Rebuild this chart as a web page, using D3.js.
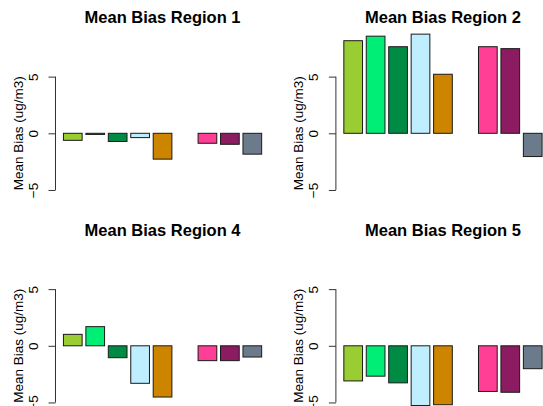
<!DOCTYPE html>
<html>
<head>
<meta charset="utf-8">
<script src="https://cdn.jsdelivr.net/npm/d3@7/dist/d3.min.js"></script>
<style>
  html, body { margin: 0; padding: 0; background: #fff; }
  svg { display: block; font-family: "Liberation Sans", Arial, sans-serif; }
</style>
</head>
<body>
<div id="chart"></div>
<script>
// one slot per model, slot 6 is left empty in the original plot
const slotColors = ['#9ACD32', '#00EE76', '#008B45', '#BFEFFF', '#CD8500', null, '#FF3E96', '#8B1C62', '#6C7B8B'];

const titles = ['Mean Bias Region 1', 'Mean Bias Region 2', 'Mean Bias Region 4', 'Mean Bias Region 5'];

const region1 = [-0.62, -0.1, -0.72, -0.38, -2.28, null, -0.88, -0.97, -1.84];
const region2 = [8.17, 8.57, 7.64, 8.75, 5.21, null, 7.64, 7.47, -2.05];
const region4 = [1.01, 1.69, -1.05, -3.31, -4.52, null, -1.31, -1.31, -0.99];
const region5 = [-3.1, -2.68, -3.27, -5.27, -5.2, null, -4.03, -4.1, -2.02];

const yTicks = [-5, 0, 5];
const yLabel = 'Mean Bias (ug/m3)';

const W = 543, H = 406;
const panels = [
    {title: titles[0], values: region1, dx: 0, dy: 0},
    {title: titles[1], values: region2, dx: 280.4, dy: 0},
    {title: titles[2], values: region4, dx: 0, dy: 212.5},
    {title: titles[3], values: region5, dx: 280.4, dy: 212.5}
];

const svg = d3.select('#chart').append('svg')
.attr('width', W)
.attr('height', H);

// R barplot geometry: width 1, space 0.2, ylim c(-5, 5) with 4% padding
const barWidth = 1;
const space = 0.2;
const nSlots = slotColors.length;
const xMin = space;
const xMax = nSlots * (barWidth + space);
const xPad = (xMax - xMin) * 0.04;

const plot = {left: 55.5, width: 214.1, top: 72.1, height: 122.4};

const x = d3.scaleLinear()
.domain([xMin - xPad, xMax + xPad])
.range([plot.left, plot.left + plot.width]);

const y = d3.scaleLinear()
.domain([-5.4, 5.4])
.range([plot.top + plot.height, plot.top]);

panels.forEach((p) => {
    const g = svg.append('g').attr('transform', `translate(${p.dx},${p.dy})`);

    const bars = p.values
    .map((v, i) => ({v, i, color: slotColors[i]}))
    .filter((d) => d.v !== null);

    g.selectAll('rect')
    .data(bars)
    .enter()
    .append('rect')
    .attr('x', (d) => x(space + d.i * (barWidth + space)))
    .attr('width', (d) => x(barWidth) - x(0))
    .attr('y', (d) => y(Math.max(0, d.v)))
    .attr('height', (d) => Math.abs(y(d.v) - y(0)))
    .attr('fill', (d) => d.color)
    .attr('stroke', '#1a1a1a')
    .attr('stroke-width', 1);

    const axis = g.append('g')
    .attr('transform', `translate(${plot.left},0)`)
    .call(d3.axisLeft(y).tickValues(yTicks).tickSize(7).tickSizeOuter(0));

    axis.select('.domain').remove();
    axis.selectAll('.tick line').attr('stroke', '#333');
    axis.append('line')
    .attr('x1', 0).attr('x2', 0)
    .attr('y1', y(yTicks[0])).attr('y2', y(yTicks[yTicks.length - 1]))
    .attr('stroke', '#333');

    axis.selectAll('.tick text')
    .attr('x', null)
    .attr('dy', null)
    .attr('transform', 'translate(-18,0) rotate(-90)')
    .attr('text-anchor', 'middle')
    .attr('fill', '#000')
    .style('font-size', '13.5px')
    .style('font-family', '"Liberation Sans", Arial, sans-serif');

    g.append('text')
    .attr('transform', `translate(22.7,${plot.top + plot.height / 2}) rotate(-90)`)
    .attr('text-anchor', 'middle')
    .style('font-size', '13.5px')
    .text(yLabel);

    g.append('text')
    .attr('x', plot.left + plot.width / 2)
    .attr('y', 23.3)
    .attr('text-anchor', 'middle')
    .style('font-size', '16.5px')
    .style('font-weight', 'bold')
    .text(p.title);
});
</script>
</body>
</html>
